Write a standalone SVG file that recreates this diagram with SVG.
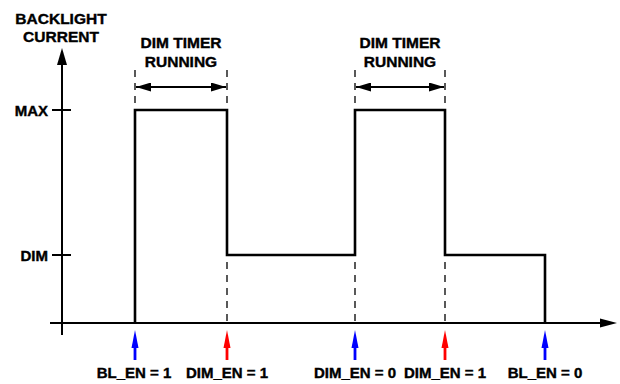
<svg xmlns="http://www.w3.org/2000/svg" width="620" height="384" viewBox="0 0 620 384">
<style>
text{font-family:"Liberation Sans",Arial,sans-serif;font-weight:bold;fill:#000;stroke:#000;stroke-width:0.4}
.t{font-size:15.5px;text-anchor:middle}
.b{font-size:15px;text-anchor:middle}
.ax{stroke:#000;stroke-width:2;fill:none}
.wave{stroke:#000;stroke-width:2.6;fill:none;stroke-linejoin:miter}
.dash{stroke:#000;stroke-width:1.3;stroke-dasharray:7,6;fill:none}
.dbl{stroke:#000;stroke-width:2;fill:none}
</style>
<defs>
<marker id="ah" viewBox="0 0 15 9" refX="15" refY="4.5" markerWidth="15" markerHeight="9" markerUnits="userSpaceOnUse" orient="auto-start-reverse">
<path d="M0,0 L15,4.5 L0,9 Z" fill="#000"/>
</marker>
</defs>
<g id="axes">
<line class="ax" x1="62" y1="335" x2="62" y2="64"/>
<path d="M57,65 L62,48 L67,65 Z" fill="#000"/>
<line class="ax" x1="50" y1="323" x2="601" y2="323"/>
<path d="M600,318.5 L617,323 L600,327.5 Z" fill="#000"/>
<line class="ax" x1="52" y1="110" x2="71" y2="110" stroke-width="1.5"/>
<line class="ax" x1="52" y1="255" x2="71" y2="255" stroke-width="1.5"/>
</g>
<g id="labels">
<text class="t" x="61" y="23.5">BACKLIGHT</text>
<text class="t" x="61" y="42">CURRENT</text>
<text x="48" y="116" font-size="15" text-anchor="end">MAX</text>
<text x="48" y="261" font-size="15" text-anchor="end">DIM</text>
</g>
<g id="waveform">
<path class="wave" d="M135,323 V110 H227 V255 H355 V110 H445 V255 H545 V323"/>
</g>
<g id="connectors">
<line class="dash" x1="135" y1="70" x2="135" y2="109"/>
<line class="dash" x1="227" y1="70" x2="227" y2="109"/>
<line class="dash" x1="355" y1="70" x2="355" y2="109"/>
<line class="dash" x1="445" y1="70" x2="445" y2="109"/>
<line class="dash" x1="227" y1="262" x2="227" y2="323"/>
<line class="dash" x1="355" y1="262" x2="355" y2="323"/>
<line class="dash" x1="445" y1="262" x2="445" y2="323"/>
<line class="dbl" x1="136" y1="87" x2="226" y2="87" marker-start="url(#ah)" marker-end="url(#ah)"/>
<line class="dbl" x1="356" y1="87" x2="444" y2="87" marker-start="url(#ah)" marker-end="url(#ah)"/>
</g>
<g id="timer1">
<text class="t" x="181" y="48">DIM TIMER</text>
<text class="t" x="181" y="67">RUNNING</text>
</g>
<g id="timer2">
<text class="t" x="400" y="48">DIM TIMER</text>
<text class="t" x="400" y="67">RUNNING</text>
</g>
<g id="event1">
<path d="M131.5,348 L135,330 L138.5,348 Z" fill="#0000FF"/>
<line x1="135" y1="347" x2="135" y2="360" stroke="#0000FF" stroke-width="2.8"/>
<text class="b" x="134" y="378">BL_EN = 1</text>
</g>
<g id="event2">
<path d="M223.5,348 L227,330 L230.5,348 Z" fill="#FF0000"/>
<line x1="227" y1="347" x2="227" y2="360" stroke="#FF0000" stroke-width="2.8"/>
<text class="b" x="227" y="378">DIM_EN = 1</text>
</g>
<g id="event3">
<path d="M351.5,348 L355,330 L358.5,348 Z" fill="#0000FF"/>
<line x1="355" y1="347" x2="355" y2="360" stroke="#0000FF" stroke-width="2.8"/>
<text class="b" x="355" y="378">DIM_EN = 0</text>
</g>
<g id="event4">
<path d="M441.5,348 L445,330 L448.5,348 Z" fill="#FF0000"/>
<line x1="445" y1="347" x2="445" y2="360" stroke="#FF0000" stroke-width="2.8"/>
<text class="b" x="445" y="378">DIM_EN = 1</text>
</g>
<g id="event5">
<path d="M541.5,348 L545,330 L548.5,348 Z" fill="#0000FF"/>
<line x1="545" y1="347" x2="545" y2="360" stroke="#0000FF" stroke-width="2.8"/>
<text class="b" x="545" y="378">BL_EN = 0</text>
</g>
</svg>
